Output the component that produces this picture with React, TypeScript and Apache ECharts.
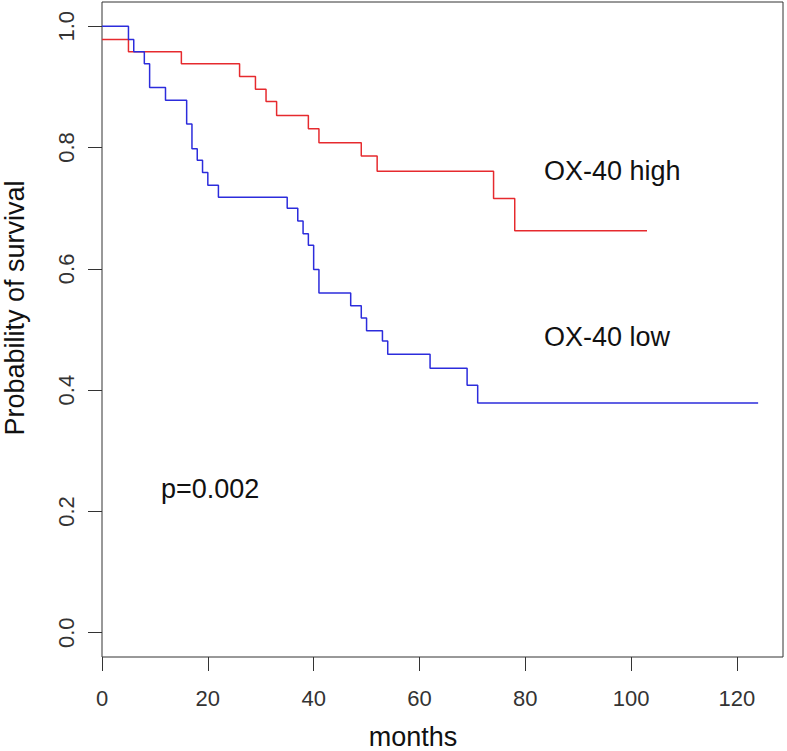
import React, { useEffect, useRef } from "react";
import * as echarts from "echarts";

// Kaplan-Meier step curves (months, survival probability)
const highTimes = [0, 5, 15, 26, 29, 31, 33, 39, 41, 49, 52, 74, 78, 103];
const highSurv = [0.978, 0.958, 0.938, 0.917, 0.896, 0.876, 0.853, 0.831, 0.808, 0.786, 0.761, 0.716, 0.663, 0.663];

const lowTimes = [0, 5, 6, 8, 9, 12, 16, 17, 18, 19, 20, 22, 35, 37, 38, 39, 40, 41, 47, 49, 50, 53, 54, 62, 69, 71, 124];
const lowSurv = [1.0, 0.978, 0.958, 0.938, 0.899, 0.878, 0.839, 0.798, 0.779, 0.759, 0.738, 0.718, 0.7, 0.679, 0.658, 0.639, 0.599, 0.56, 0.539, 0.519, 0.498, 0.481, 0.459, 0.436, 0.408, 0.379, 0.379];

const xTicks = [0, 20, 40, 60, 80, 100, 120];
const yTicks = [0, 0.2, 0.4, 0.6, 0.8, 1.0];

const labelHigh = "OX-40 high";
const labelLow = "OX-40 low";
const labelP = "p=0.002";
const xName = "months";
const yName = "Probability of survival";

const FONT = "'Liberation Sans', Arial, Helvetica, sans-serif";

export default function App() {
  const ref = useRef<HTMLDivElement>(null);
  useEffect(() => {
    if (!ref.current) return;
    const chart = echarts.init(ref.current, undefined, { renderer: "svg" });
    const pairs = (t: number[], s: number[]) => t.map((v, i) => [v, s[i]]);
    const txt = { fontFamily: FONT, fontSize: 27, fill: "#111" };
    chart.setOption({
      animation: false,
      backgroundColor: "#ffffff",
      grid: {
        left: 102,
        right: 4,
        top: 2,
        bottom: 94,
        show: true,
        borderColor: "#333333",
        borderWidth: 1,
        backgroundColor: "transparent",
        containLabel: false,
        outerBoundsMode: "none",
      },
      xAxis: {
        type: "value",
        min: 0,
        max: 128.7,
        axisLine: { show: false, onZero: false },
        splitLine: { show: false },
        axisTick: {
          show: true,
          length: 14,
          lineStyle: { color: "#333", width: 1 },
          customValues: xTicks,
        },
        axisLabel: {
          fontFamily: FONT,
          fontSize: 22,
          color: "#333",
          margin: 30,
          customValues: xTicks,
          formatter: (v: number) => String(v),
        },
      },
      yAxis: {
        type: "value",
        min: -0.04,
        max: 1.04,
        axisLine: { show: false, onZero: false },
        splitLine: { show: false },
        axisTick: {
          show: true,
          length: 14,
          lineStyle: { color: "#333", width: 1 },
          customValues: yTicks,
        },
        axisLabel: {
          fontFamily: FONT,
          fontSize: 22,
          color: "#333",
          margin: 25,
          rotate: 90,
          customValues: yTicks,
          formatter: (v: number) => v.toFixed(1),
        },
      },
      series: [
        {
          name: labelHigh,
          type: "line",
          step: "end",
          showSymbol: false,
          symbol: "none",
          lineStyle: { color: "#e62a2e", width: 1.5 },
          data: pairs(highTimes, highSurv),
        },
        {
          name: labelLow,
          type: "line",
          step: "end",
          showSymbol: false,
          symbol: "none",
          lineStyle: { color: "#2c2cdc", width: 1.5 },
          data: pairs(lowTimes, lowSurv),
        },
      ],
      graphic: [
        { type: "text", left: 544, top: 157, style: { ...txt, text: labelHigh } },
        { type: "text", left: 544, top: 323, style: { ...txt, text: labelLow } },
        { type: "text", left: 161, top: 475, style: { ...txt, text: labelP } },
        {
          type: "text",
          x: 413,
          y: 737,
          style: { ...txt, text: xName, align: "center", verticalAlign: "middle" },
        },
        {
          type: "text",
          x: 14.5,
          y: 308,
          rotation: Math.PI / 2,
          style: { ...txt, text: yName, align: "center", verticalAlign: "middle" },
        },
      ],
    });
    return () => chart.dispose();
  }, []);
  return (
    <div
      ref={ref}
      style={{ position: "fixed", left: 0, top: 0, width: 787, height: 751, background: "#fff" }}
    />
  );
}
